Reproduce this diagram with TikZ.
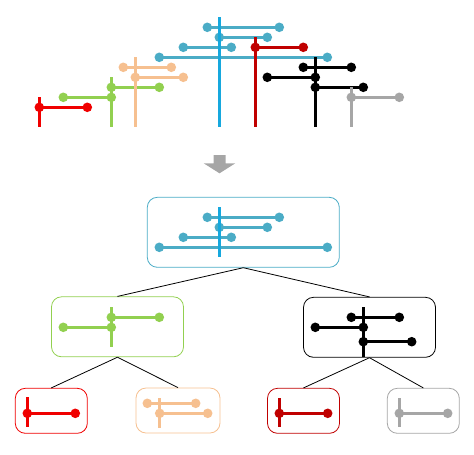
\documentclass[tikz,border=0pt]{standalone}
\usepackage{xcolor}
\usepackage{tikz}
\usetikzlibrary{arrows.meta}
\definecolor{aqua}{RGB}{75,172,198}
\definecolor{sky}{RGB}{22,168,222}
\definecolor{crimson}{RGB}{192,0,0}
\definecolor{brightred}{RGB}{240,0,0}
\definecolor{grass}{RGB}{146,208,80}
\definecolor{peach}{RGB}{246,192,144}
\definecolor{stone}{RGB}{166,166,166}
\tikzstyle{bar} = [line width=2.25pt, {Circle[length=7pt]}-{Circle[length=7pt]}, shorten <=-3.5pt, shorten >=-3.5pt]
\tikzstyle{stem} = [line width=2.25pt]
\tikzstyle{cluster} = [draw, rounded corners=7.5pt, line width=0.6pt, inner sep=0pt]
\tikzstyle{link} = [line width=0.6pt, black]

\begin{document}
\begin{tikzpicture}[x=0.75pt, y=-0.75pt]
    \useasboundingbox (0,0) rectangle (474,454);

    \fill[stone] (213.5,155) -- (225.5,155) -- (225.5,163.3) -- (235.3,163.3) -- (219.5,173.3) -- (203.7,163.3) -- (213.5,163.3) -- cycle;

    \node[cluster, draw=aqua, minimum width=144pt, minimum height=52.5pt] (root) at (243.3,232.3) {};
    \node[cluster, draw=grass, minimum width=99pt, minimum height=45pt] (greenbox) at (117.5,326.8) {};
    \node[cluster, draw=black, minimum width=99pt, minimum height=45pt] (blackbox) at (369.5,327.3) {};
    \node[cluster, draw=brightred, minimum width=54pt, minimum height=33.75pt] (redbox) at (51.3,410.8) {};
    \node[cluster, draw=peach, minimum width=63pt, minimum height=33.75pt] (peachbox) at (178,410.5) {};
    \node[cluster, draw=crimson, minimum width=54pt, minimum height=33.75pt] (crimsonbox) at (303.5,410.8) {};
    \node[cluster, draw=stone, minimum width=54pt, minimum height=33.75pt] (stonebox) at (423.3,410.8) {};

    \path[link] (root.south) edge (greenbox.north);
    \path[link] (root.south) edge (blackbox.north);
    \path[link] (greenbox.south) edge (redbox.north);
    \path[link] (greenbox.south) edge (peachbox.north);
    \path[link] (blackbox.south) edge (crimsonbox.north);
    \path[link] (blackbox.south) edge (stonebox.north);

    \draw[bar, aqua] (207.3,27.3) -- (279.3,27.3);
    \draw[bar, aqua] (219.3,37.3) -- (267.3,37.3);
    \draw[bar, aqua] (183.3,47.3) -- (231.3,47.3);
    \draw[bar, aqua] (159.3,57.3) -- (327.3,57.3);
    \draw[bar, crimson] (255.3,47.3) -- (303.3,47.3);
    \draw[bar, black] (303.3,67.3) -- (351.3,67.3);
    \draw[bar, black] (267.3,77.3) -- (315.3,77.3);
    \draw[bar, black] (315.3,87.3) -- (363.3,87.3);
    \draw[bar, stone] (351.3,97.3) -- (399.3,97.3);
    \draw[bar, grass] (111.3,87.3) -- (159.3,87.3);
    \draw[bar, grass] (63.3,97.3) -- (111.3,97.3);
    \draw[bar, peach] (123.3,67.3) -- (171.3,67.3);
    \draw[bar, peach] (135.3,77.3) -- (183.3,77.3);
    \draw[bar, brightred] (39.3,107.3) -- (87.3,107.3);
    \draw[stem, sky] (219.3,17) -- (219.3,127);
    \draw[stem, crimson] (255.3,37) -- (255.3,127);
    \draw[stem, black] (315.3,57) -- (315.3,127);
    \draw[stem, stone] (351.3,87) -- (351.3,127);
    \draw[stem, grass] (111.3,77) -- (111.3,127);
    \draw[stem, peach] (135.3,57) -- (135.3,127);
    \draw[stem, brightred] (39.3,97) -- (39.3,127);

    \draw[bar, aqua] (207.3,217.3) -- (279.3,217.3);
    \draw[bar, aqua] (219.3,227.3) -- (267.3,227.3);
    \draw[bar, aqua] (183.3,237.3) -- (231.3,237.3);
    \draw[bar, aqua] (159.3,247.3) -- (327.3,247.3);
    \draw[stem, sky] (219.3,207.3) -- (219.3,257.3);

    \draw[bar, grass] (111.3,317.3) -- (159.3,317.3);
    \draw[bar, grass] (63.3,327.3) -- (111.3,327.3);
    \draw[stem, grass] (111.3,307.3) -- (111.3,347.3);

    \draw[bar, black] (351.3,317.3) -- (399.3,317.3);
    \draw[bar, black] (315.3,327.3) -- (363.3,327.3);
    \draw[bar, black] (363.3,341.7) -- (411.7,341.7);
    \draw[stem, black] (363.3,307.3) -- (363.3,357);

    \draw[bar, brightred] (27.3,413.3) -- (75.3,413.3);
    \draw[stem, brightred] (27.3,397.3) -- (27.3,427.3);

    \draw[bar, peach] (147.3,403.3) -- (195.7,403.3);
    \draw[bar, peach] (159.7,413.3) -- (207.7,413.3);
    \draw[stem, peach] (159.7,398.3) -- (159.7,428.3);

    \draw[bar, crimson] (279.3,413.3) -- (327.7,413.3);
    \draw[stem, crimson] (279.3,398) -- (279.3,427);

    \draw[bar, stone] (399.3,413.3) -- (447.7,413.3);
    \draw[stem, stone] (399.3,398) -- (399.3,427);
\end{tikzpicture}
\end{document}
